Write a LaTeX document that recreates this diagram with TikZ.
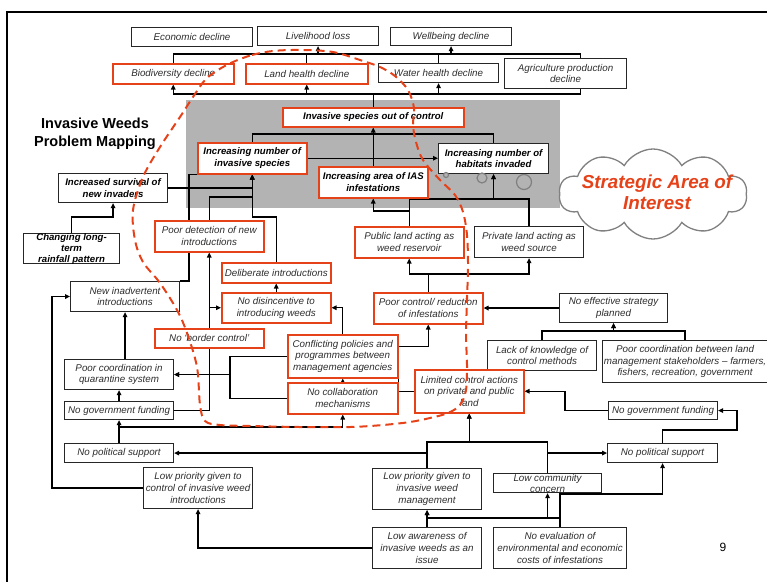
\documentclass[tikz,border=0pt]{standalone}
\usepackage{fontspec}
\setmainfont{Liberation Sans}
\usetikzlibrary{arrows.meta,shapes.symbols}
\definecolor{redc}{RGB}{230,66,25}
\definecolor{bggray}{RGB}{179,179,179}
\definecolor{txtgray}{RGB}{45,45,45}
\definecolor{puffgray}{RGB}{128,128,128}

\pgfdeclarelayer{back}
\pgfdeclarelayer{lines}
\pgfdeclarelayer{front}
\pgfsetlayers{back,lines,main,front}

\tikzset{
  wh/.style 2 args={anchor=north west, minimum width=#1pt, minimum height=#2pt},
  box/.style={draw=black!85, line width=1.1pt, fill=white, align=center, inner sep=0pt,
              font=\fontsize{9.8}{11.7}\selectfont\itshape, text=txtgray},
  rbox/.style={box, draw=redc, line width=1.5pt},
  bbox/.style={box, font=\fontsize{9.6}{11.5}\selectfont\bfseries\itshape, text=black},
  rbbox/.style={bbox, draw=redc, line width=1.5pt},
  plain/.style={align=center, inner sep=0pt},
  link/.style={line width=1.3pt, black},
  arr/.style={link, -{Triangle[length=5pt,width=4.5pt]}},
  bubble/.style={circle, draw=puffgray, fill=bggray, line width=1.2pt, inner sep=0pt},
}

\begin{document}
\begin{tikzpicture}[x=1pt,y=-1pt]
\useasboundingbox (0,0) rectangle (767,581);
\clip (0,0) rectangle (767,581);

% page frame
\draw[line width=2pt] (7,600) -- (7,12) -- (800,12);

% shaded core region
\begin{pgfonlayer}{back}
\fill[bggray] (186,100) rectangle (560,208);
\end{pgfonlayer}

% ---------- impacts ----------
\node[box, wh={121}{19}] (econ)   at (131,27) {Economic decline};
\node[box, wh={121}{19}] (liveli) at (257,26) {Livelihood loss};
\node[box, wh={121}{18}] (wellb)  at (390,27) {Wellbeing decline};

\node[rbox, wh={121}{20}] (biod)   at (112,63) {Biodiversity decline};
\node[rbox, wh={122}{20}] (landh)  at (245,63) {Land health decline};
\node[box,  wh={120}{19}] (waterh) at (378,63) {Water health decline};
\node[box,  wh={122}{30}] (agri)   at (504,58) {Agriculture production\\decline};

% ---------- core problem ----------
\node[rbbox, wh={181}{19}] (outctrl)  at (282,107) {Invasive species out of control};
\node[rbbox, wh={109}{31}] (incnum)   at (197,142) {Increasing number of\\invasive species};
\node[rbbox, wh={109}{31}] (incarea)  at (318,166) {Increasing area of IAS\\infestations};
\node[bbox,  wh={110}{30}] (habitats) at (438,143) {Increasing number of\\habitats invaded};

\node[font=\fontsize{14.5}{18}\selectfont\bfseries, align=center] (title) at (95,134)
  {Invasive Weeds\\Problem Mapping};

% ---------- introduction pathway ----------
\node[bbox, wh={109}{29}] (survival) at (58,173) {Increased survival of\\new invaders};
\node[bbox, wh={96}{30}] (rainfall) at (23,233) {};
\node[plain, font=\fontsize{9.6}{11}\selectfont\bfseries\itshape] (rainfalltxt) at (rainfall.center)
  {Changing long-\\term\\rainfall pattern};

\node[rbox, wh={109}{31}] (poordet)  at (154,220) {Poor detection of new\\introductions};
\node[box,  wh={109}{30}] (newinadv) at (70,281)  {New inadvertent\\introductions};
\node[rbox, wh={109}{20}] (delib)    at (221,262) {Deliberate introductions};
\node[rbox, wh={109}{30}] (nodisinc) at (221,292) {No disincentive to\\introducing weeds};
\node[rbox, wh={110}{43}] (conflict) at (287,334) {Conflicting policies and\\programmes between\\management agencies};
\node[rbox, wh={110}{31}] (nocollab) at (287,382) {No collaboration\\mechanisms};

\node[box, wh={109}{30}] (poorcoordq) at (64,359) {Poor coordination in\\quarantine system};
\node[box, wh={109}{18}] (nogovL)     at (64,401) {No government funding};
\node[box, wh={109}{19}] (nopolL)     at (64,443) {No political support};
\node[box, wh={109}{41}] (lowprioC)   at (143,467) {Low priority given to\\control of invasive weed\\introductions};

% ---------- spread pathway ----------
\node[rbox, wh={109}{31}] (publand)  at (354,226) {Public land acting as\\weed reservoir};
\node[box,  wh={109}{31}] (privland) at (474,226) {Private land acting as\\weed source};
\node[rbox, wh={109}{31}] (poorctrl) at (373,292) {Poor control/ reduction\\of infestations};
\node[box,  wh={108}{29}] (noeffect) at (559,293) {No effective strategy\\planned};
\node[box,  wh={109}{30}] (lackknow) at (487,340) {Lack of knowledge of\\control methods};
\node[box,  wh={165}{42}] (poorcoordL) at (602,340)
  {Poor coordination between land\\management stakeholders -- farmers,\\fishers, recreation, government};
\node[rbox, wh={109}{43}] (limited)  at (414,369) {Limited control actions\\on private and public\\land};
\node[box,  wh={109}{18}] (nogovR)   at (608,401) {No government funding};
\node[box,  wh={110}{19}] (nopolR)   at (607,443) {No political support};
\node[box,  wh={109}{41}] (lowprioM) at (372,468) {Low priority given to\\invasive weed\\management};
\node[box,  wh={108}{19}] (lowcomm)  at (493,473) {};
\node[plain, font=\fontsize{9.8}{11}\selectfont\itshape, text=txtgray] (lowcommtxt) at (lowcomm.center)
  {Low community\\concern};
\node[box,  wh={109}{41}] (lowaware) at (372,527) {Low awareness of\\invasive weeds as an\\issue};
\node[box,  wh={133}{41}] (noeval)   at (493,527) {No evaluation of\\environmental and economic\\costs of infestations};

% ---------- strategic area cloud ----------
\node[bubble, minimum size=5pt]  (bub1) at (446,175) {};
\node[bubble, minimum size=10pt] (bub2) at (482,178) {};
\node[bubble, minimum size=15pt] (bub3) at (524,182) {};
\node[cloud, cloud puffs=10, cloud puff arc=120, cloud ignores aspect, draw=puffgray,
      line width=1.3pt, fill=white, minimum width=188pt, minimum height=90pt] (cloud) at (653,194) {};
\node[plain, font=\fontsize{18.8}{21}\selectfont\bfseries\itshape, text=redc] (cloudtxt) at (657,192.5)
  {Strategic Area of\\Interest};

\node[font=\fontsize{12}{14}\selectfont] (pagenum) at (723,547) {9};

% ---------- connectors ----------
\begin{pgfonlayer}{lines}
\coordinate (topbus) at (0,54);
\coordinate (midbus) at (0,94);
% impacts to consequences
\draw[link] (biod.north) |- ([xshift=15pt]agri.north |- topbus) -- ([xshift=15pt]agri.north);
\draw[link] (landh.north) -- (landh.north |- topbus);
\draw[link] (waterh.north) -- (waterh.north |- topbus);
\draw[arr] (liveli.south |- topbus) -- (liveli.south);
\draw[arr] (wellb.south |- topbus) -- (wellb.south);
% core problem to impacts
\draw[link] (outctrl.north) -- (outctrl.north |- midbus);
\draw[link] (biod.south |- midbus) -- ([xshift=15pt]agri.south |- midbus) -- ([xshift=15pt]agri.south);
\draw[arr] (biod.south |- midbus) -- (biod.south);
\draw[arr] (landh.south |- midbus) -- (landh.south);
\draw[arr] (waterh.south |- midbus) -- (waterh.south);
% within the core
\draw[arr] (incarea.north) -- (outctrl.south);
\draw[link] (incnum.north) -- ++(0,-8) -| (habitats.north);
\draw[arr] (incnum.east) -- (habitats.west |- incnum.east);
% causes of more species
\draw[arr] (survival.east) -| (incnum.south);
\draw[arr] (poordet.north) -- ++(0,-23) -| (incnum.south);
\draw[arr] (delib.north) -- ++(0,-45) -| (incnum.south);
\draw[link] (newinadv.north east) -- ++(9,0) |- (incnum.south west);
\draw[arr] (rainfall.north) -- ++(0,-16) -| (survival.south);
% causes of more area / habitats
\draw[arr] (publand.north) -- ++(0,-15) -| (incarea.south);
\draw[arr] (publand.north) -- ++(0,-27) -| (habitats.south);
\draw[arr] (privland.north) -- ++(0,-27) -| (habitats.south);
\draw[arr] (poorctrl.north) -- ++(0,-18) -| (publand.south);
\draw[arr] (poorctrl.north) -- ++(0,-18) -| (privland.south);
\draw[arr] (noeffect.west) -- (poorctrl.east |- noeffect.west);
\draw[arr] (lackknow.north) -- ++(0,-9) -| (noeffect.south);
\draw[arr] (poorcoordL.north) -- ++(0,-9) -| (noeffect.south);
\draw[arr] (limited.west) -- (conflict.east |- limited.west) -- ([yshift=9.5pt]conflict.east) -| (poorctrl.south);
\draw[arr] (nogovR.west) -- ++(-43,0) |- (limited.east);
\draw[arr] (nopolR.north) -- ++(0,-13) -| ([xshift=19pt]nogovR.east) -- (nogovR.east);
\draw[arr] (lowprioM.north) -- ++(0,-26) -| (limited.south);
\draw[arr] (lowcomm.north) -- ++(0,-31) -| (limited.south);
\draw[arr] (lowprioM.north) |- (nopolL.east);
\draw[arr] (lowcomm.north) |- (nopolR.west);
\draw[arr] (noeval.north) -- ++(0,-9) -| (lowprioM.south);
\draw[arr] (noeval.north) -- ++(0,-9) -| (lowcomm.south);
\draw[arr] (noeval.north) -- ++(0,-33) -| (nopolR.south);
\draw[arr] (lowaware.north) -- (lowprioM.south);
\draw[arr] (lowaware.west) -| (lowprioC.south);
\draw[arr] (lowprioC.west) -- ++(-91,0) |- (newinadv.west);
% quarantine side
\draw[arr] (newinadv.south |- poorcoordq.north) -- (newinadv.south);
\draw[arr] (nogovL.north) -- (poorcoordq.south);
\draw[arr] (nopolL.north) -- (nogovL.south);
\draw[arr] (nopolL.north) -- ++(0,-16) -| (nocollab.south);
\draw[arr] (nogovL.east) -| (poordet.south);
\draw[arr] (poordet.south |- nodisinc.west) -- (nodisinc.west);
\draw[arr] (conflict.north) |- (nodisinc.east);
\draw[arr] (nocollab.north) -- (conflict.south);
\draw[arr] (nodisinc.north) -- (delib.south);
\draw[arr] (conflict.west) -- ++(-57,0) |- (poorcoordq.east);
\draw[arr] (nocollab.west) -- ++(-57,0) |- (poorcoordq.east);
\end{pgfonlayer}

% 'No border control' sits on the funding line
\node[rbox, wh={109}{19}] (border) at (154,328) {No `border control'};

% ---------- strategic area outline ----------
\begin{pgfonlayer}{front}
\draw[redc, line width=2pt, dash pattern=on 8pt off 5pt]
  plot[smooth cycle, tension=0.55] coordinates {
   (233,62) (252,55) (273,51) (300,50) (333,52) (363,61) (380,67) (395,76) (408,90)
   (414,108) (413,125) (416,142) (423,160) (440,180) (455,195) (463,212) (467,235)
   (468,265) (467,300) (466,335) (467,365) (466,390) (460,405) (448,413) (430,418)
   (410,422) (383,425) (350,427) (300,427) (250,426) (220,425) (205,421) (200,405)
   (197,367) (187,333) (177,310) (160,283) (143,262) (135,240) (133,210) (143,177)
   (160,147) (180,117) (193,97) (205,80) (218,70)};
\end{pgfonlayer}
\end{tikzpicture}
\end{document}
